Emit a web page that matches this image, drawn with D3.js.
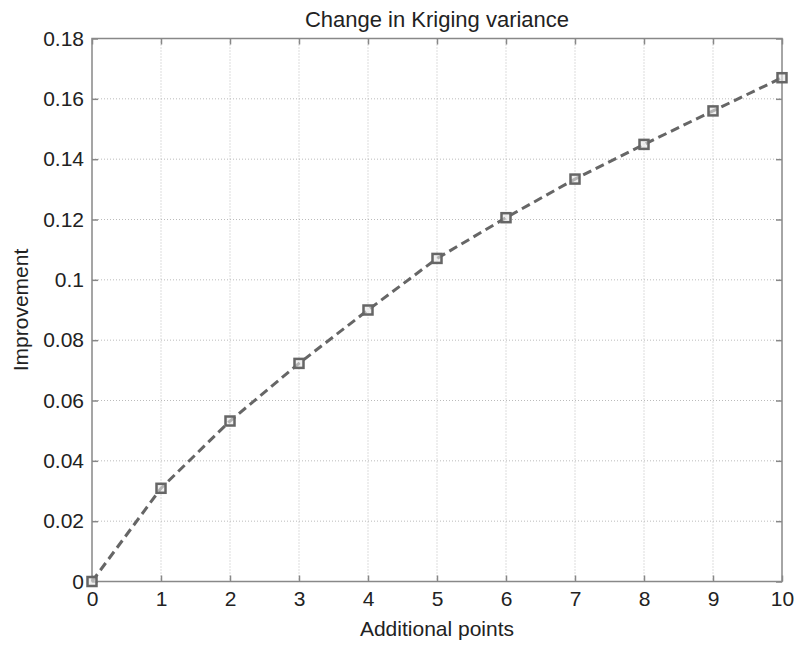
<!DOCTYPE html>
<html><head><meta charset="utf-8">
<script src="https://cdn.jsdelivr.net/npm/d3@7"></script>
<style>body{margin:0;background:#fff}svg{display:block}text{font-family:"Liberation Sans",Arial,sans-serif;fill:#222}</style>
</head><body>
<script>
const xValues = [0,1,2,3,4,5,6,7,8,9,10];
const yValues = [0,0.0309,0.0532,0.0723,0.0900,0.1071,0.1206,0.1334,0.1449,0.1560,0.1670];
const xTicks = [0,1,2,3,4,5,6,7,8,9,10];
const yTicks = [0,0.02,0.04,0.06,0.08,0.1,0.12,0.14,0.16,0.18];
const title = "Change in Kriging variance";
const xLabel = "Additional points";
const yLabel = "Improvement";

const W=795,H=645, L=92,R=782,T=38.5,B=581.5;
const svg=d3.select("body").append("svg").attr("width",W).attr("height",H);
const x=d3.scaleLinear().domain([0,10]).range([L,R]);
const y=d3.scaleLinear().domain([0,0.18]).range([B,T]);

// grid
const g=svg.append("g");
g.selectAll(".gx").data(xTicks.slice(1,-1)).enter().append("line")
 .attr("x1",d=>x(d)).attr("x2",d=>x(d)).attr("y1",T).attr("y2",B)
 .attr("stroke","#bbb").attr("stroke-width",1).attr("stroke-dasharray","1,2");
g.selectAll(".gy").data(yTicks.slice(1,-1)).enter().append("line")
 .attr("y1",d=>y(d)).attr("y2",d=>y(d)).attr("x1",L).attr("x2",R)
 .attr("stroke","#bbb").attr("stroke-width",1).attr("stroke-dasharray","1,2");

// frame
svg.append("rect").attr("x",L).attr("y",T).attr("width",R-L).attr("height",B-T)
 .attr("fill","none").attr("stroke","#888").attr("stroke-width",1.5);

// axes with inward ticks
const fmt=d=>d===0?"0":String(+d.toFixed(2));
svg.append("g").attr("transform",`translate(0,${B})`)
 .call(d3.axisBottom(x).tickValues(xTicks).tickSize(-6).tickPadding(10).tickFormat(d=>d));
svg.append("g").attr("transform",`translate(${L},0)`)
 .call(d3.axisLeft(y).tickValues(yTicks).tickSize(-6).tickPadding(8).tickFormat(fmt));
svg.append("g").attr("transform",`translate(0,${T})`)
 .call(d3.axisTop(x).tickValues(xTicks).tickSize(-6).tickFormat(""));
svg.append("g").attr("transform",`translate(${R},0)`)
 .call(d3.axisRight(y).tickValues(yTicks).tickSize(-6).tickFormat(""));
svg.selectAll(".domain").remove();
svg.selectAll(".tick line").attr("stroke","#888").attr("stroke-width",1.5);
svg.selectAll(".tick text").attr("font-size",21).attr("fill","#222").style("font-family","'Liberation Sans',Arial,sans-serif");

// line
const data=xValues.map((d,i)=>[d,yValues[i]]);
svg.append("path").datum(data)
 .attr("d",d3.line().x(d=>x(d[0])).y(d=>y(d[1])))
 .attr("fill","none").attr("stroke","#666").attr("stroke-width",3).attr("stroke-dasharray","9,5");
svg.selectAll(".m").data(data).enter().append("rect")
 .attr("x",d=>x(d[0])-4.5).attr("y",d=>y(d[1])-4.5).attr("width",9).attr("height",9)
 .attr("fill","#e6e6e6").attr("fill-opacity",0.6).attr("stroke","#666").attr("stroke-width",2.5);

// labels
svg.append("text").attr("x",(L+R)/2).attr("y",27).attr("text-anchor","middle").attr("font-size",22).text(title);
svg.append("text").attr("x",(L+R)/2).attr("y",636).attr("text-anchor","middle").attr("font-size",21).text(xLabel);
svg.append("text").attr("transform",`translate(28,${(T+B)/2}) rotate(-90)`).attr("text-anchor","middle").attr("font-size",21).text(yLabel);
</script>
</body></html>
